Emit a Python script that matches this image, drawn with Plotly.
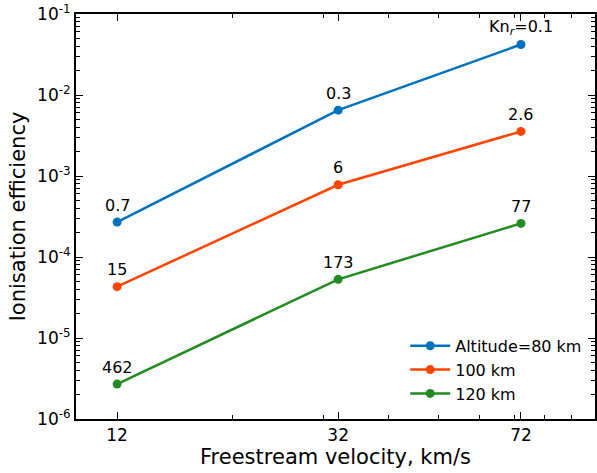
import math
import plotly.graph_objects as go

velocity = [12, 32, 72]
eff_80 = [2.7e-4, 6.5e-3, 4.2e-2]
eff_100 = [4.3e-5, 7.8e-4, 3.55e-3]
eff_120 = [2.7e-6, 5.3e-5, 2.6e-4]
kn_80 = ["0.7", "0.3", "Kn<sub><i>r</i></sub>=0.1"]
kn_100 = ["15", "6", "2.6"]
kn_120 = ["462", "173", "77"]
names = ["Altitude=80 km", "100 km", "120 km"]
colors = ["#0072BD", "#FF4500", "#228B22"]

x_ticks = [12, 32, 72]
x_minor = [20, 30, 40, 50, 60, 70, 80, 90]
y_ticks = [1e-6, 1e-5, 1e-4, 1e-3, 1e-2, 1e-1]
y_ticktext = ["10<sup>-6</sup>", "10<sup>-5</sup>", "10<sup>-4</sup>",
              "10<sup>-3</sup>", "10<sup>-2</sup>", "10<sup>-1</sup>"]
y_minor = [m * 10.0 ** e for e in range(-6, -1) for m in range(2, 10)]

font = "DejaVu Sans, Liberation Sans, sans-serif"

fig = go.Figure()
annotations = []
for ys, labels, name, c in zip([eff_80, eff_100, eff_120], [kn_80, kn_100, kn_120], names, colors):
    fig.add_trace(go.Scatter(x=velocity, y=ys, name=name, mode="lines+markers",
                             line=dict(color=c, width=2.5),
                             marker=dict(color=c, size=9)))
    for xv, yv, t in zip(velocity, ys, labels):
        annotations.append(dict(x=math.log10(xv), y=math.log10(yv), xref="x", yref="y", text=t,
                                showarrow=False, yshift=17,
                                font=dict(size=16, color="black", family=font),
                                xanchor="center", yanchor="middle"))

fig.update_layout(
    width=597, height=473,
    margin=dict(l=76, r=2, t=14, b=54),
    paper_bgcolor="white", plot_bgcolor="white",
    font=dict(family=font, size=17, color="black"),
    annotations=annotations,
    legend=dict(x=0.985, y=0.02, xanchor="right", yanchor="bottom",
                bgcolor="rgba(0,0,0,0)", font=dict(size=16),
                tracegroupgap=0, itemwidth=40),
    showlegend=True,
)
fig.update_xaxes(
    type="log", range=[1, 2], automargin=False,
    tickmode="array", tickvals=x_ticks, ticktext=[str(v) for v in x_ticks],
    ticks="inside", ticklen=7, tickwidth=1, tickcolor="black",
    showline=True, linecolor="black", linewidth=2, mirror="allticks",
    showgrid=False, zeroline=False,
    minor=dict(tickmode="array", tickvals=x_minor, ticks="inside", ticklen=4,
               tickwidth=1, tickcolor="black", showgrid=False),
    tickfont=dict(size=17),
    title=dict(text="Freestream velocity, km/s", font=dict(size=21), standoff=4),
)
fig.update_yaxes(
    type="log", range=[-6, -1], automargin=False,
    tickmode="array", tickvals=y_ticks, ticktext=y_ticktext,
    ticks="inside", ticklen=7, tickwidth=1, tickcolor="black",
    showline=True, linecolor="black", linewidth=2, mirror="allticks",
    showgrid=False, zeroline=False,
    minor=dict(tickmode="array", tickvals=y_minor, ticks="inside", ticklen=4,
               tickwidth=1, tickcolor="black", showgrid=False),
    tickfont=dict(size=17),
    title=dict(text="Ionisation efficiency", font=dict(size=21), standoff=6),
)

fig.write_html("out.html", config={"displayModeBar": False},
               post_script="document.body.style.margin='0';")
